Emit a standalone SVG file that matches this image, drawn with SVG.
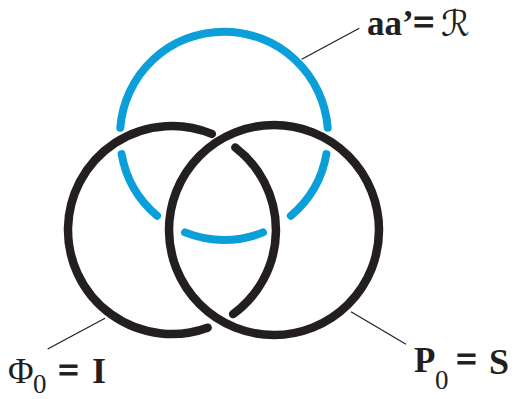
<svg xmlns="http://www.w3.org/2000/svg" width="520" height="399" viewBox="0 0 520 399">
  <style>
    .ring-blue { fill: none; stroke: #0a9fd9; stroke-width: 8; stroke-linecap: round; }
    .ring-black { fill: none; stroke: #231f20; stroke-width: 8.5; stroke-linecap: round; }
    .leader { fill: none; stroke: #231f20; stroke-width: 1.2; }
    .lbl { font-family: "Liberation Serif", "Times New Roman", serif; fill: #231f20; }
    .b { font-weight: bold; }
    .eq { font-weight: bold; stroke: #231f20; stroke-width: 0.8; }
  </style>
  <rect width="520" height="399" fill="#ffffff"/>

  <g id="ring-R">
    <path class="ring-blue" d="M120.3,127.8 A104,104 0 0 1 327.7,127.8"/>
    <path class="ring-blue" d="M121.6,154.1 A104,104 0 0 0 157.1,215.7"/>
    <path class="ring-blue" d="M326.4,154.1 A104,104 0 0 1 290.9,215.7"/>
    <path class="ring-blue" d="M185.0,232.4 A104,104 0 0 0 263.0,232.4"/>
    <text class="lbl b" x="367" y="35" font-size="35">aa’<tspan class="eq" x="413" font-size="38">=</tspan></text>
    <text x="441" y="36" font-size="36" fill="#231f20" style="font-family: 'DejaVu Serif', 'DejaVu Sans', serif;">ℛ</text>
  </g>

  <g id="ring-I">
    <path class="ring-black" d="M211.8,133.9 A104,104 0 1 0 207.6,327.7"/>
    <path class="ring-black" d="M235.3,147.5 A104,104 0 0 1 233.1,314.1"/>
    <text class="lbl" x="8" y="383" font-size="35">Φ<tspan x="33" y="393" font-size="27">0</tspan><tspan class="eq" x="58" y="383" font-size="37">=</tspan><tspan class="b" x="92" y="383" font-size="36">I</tspan></text>
  </g>

  <g id="ring-S">
    <circle class="ring-black" cx="274" cy="230" r="105"/>
    <text class="lbl b" x="414" y="372" font-size="35">P</text>
    <text class="lbl" x="435" y="389" font-size="27">0</text>
    <text class="lbl b" x="489" y="374" font-size="36"><tspan class="eq" x="456" y="372" font-size="37">=</tspan><tspan x="489" y="374">S</tspan></text>
  </g>

  <g id="connectors">
    <line class="leader" x1="301.7" y1="59.3" x2="359.3" y2="28.3"/>
    <line class="leader" x1="105" y1="318.3" x2="47.7" y2="349"/>
    <line class="leader" x1="351" y1="311.7" x2="406" y2="344.3"/>
  </g>
</svg>
